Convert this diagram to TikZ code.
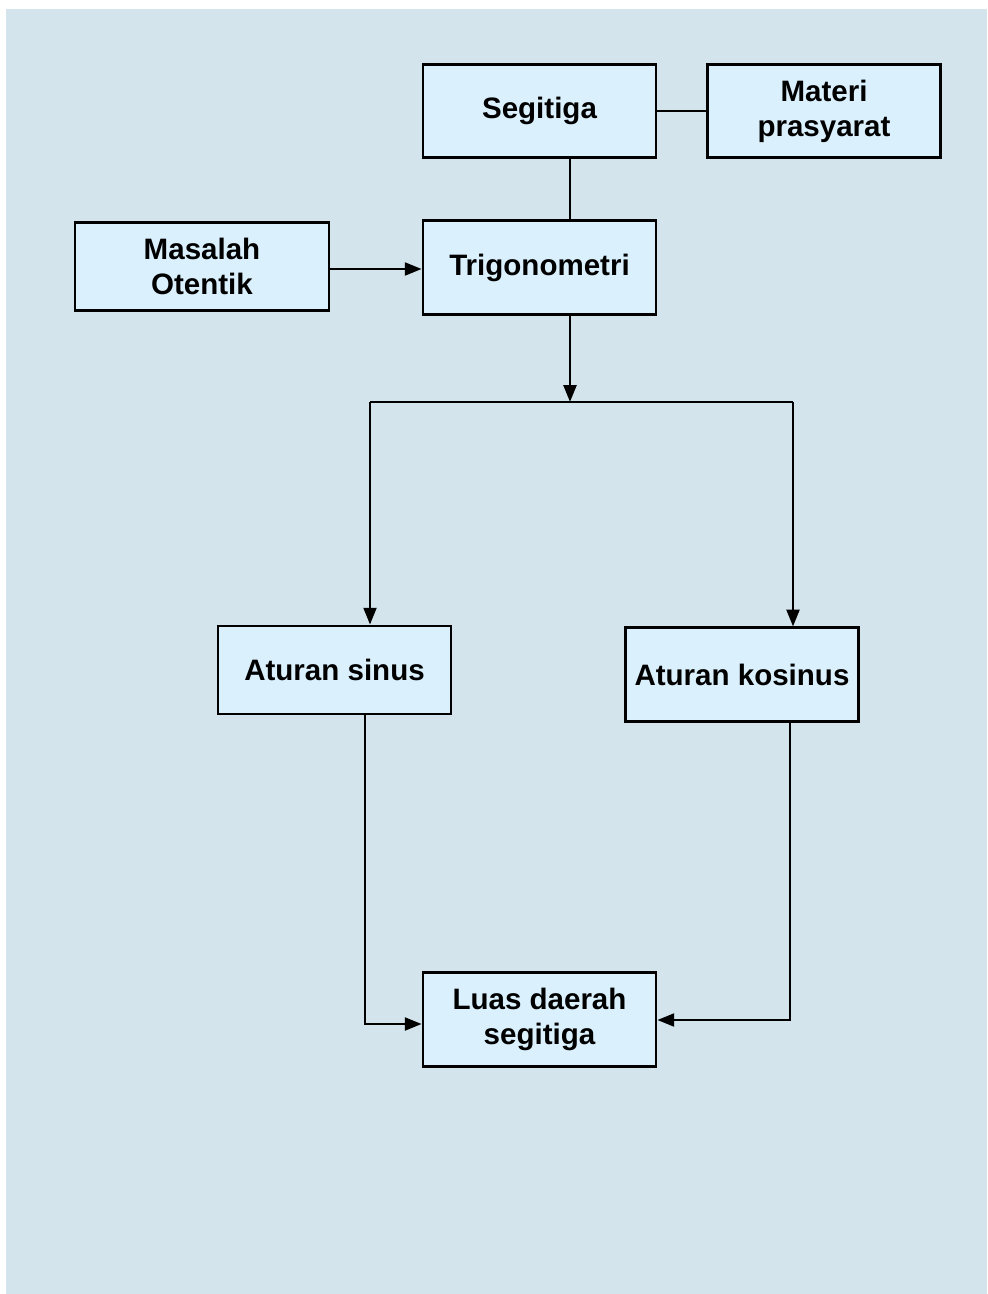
\documentclass[tikz,border=0pt]{standalone}
\usepackage{fontspec}
\setmainfont{Liberation Sans}
\usepackage{xcolor}
\usetikzlibrary{arrows.meta,positioning,calc}
\definecolor{bgblue}{RGB}{211,228,236}
\definecolor{boxblue}{RGB}{218,240,252}
\begin{document}
\begin{tikzpicture}[
  x=0.025cm,y=-0.025cm,
  block/.style={draw,fill=boxblue,line width=2pt,font=\fontsize{21}{25}\selectfont\bfseries,minimum width=5.82cm,minimum height=2.33cm,align=center,inner sep=3pt},
  >={Triangle[length=0.42cm,width=0.32cm]},line width=1.9pt
]
\useasboundingbox (0,0) rectangle (987,1294);
\fill[bgblue] (6,9) rectangle (987,1294);
\node[block] (seg)  at (539.5,111)  {Segitiga};
\node[block] (mat)  at (824,111)    {Materi\\prasyarat};
\node[block,minimum width=6.35cm,minimum height=2.18cm] (mas) at (202,266.5) {Masalah\\Otentik};
\node[block] (trig) at (539.5,267.5) {Trigonometri};
\node[block,minimum height=2.2cm] (sin) at (334.5,670) {Aturan sinus};
\node[block] (kos)  at (742,674.5)  {Aturan kosinus};
\node[block] (luas) at (539.5,1019.5) {Luas daerah\\segitiga};
\coordinate (J)  at (570,402);
\coordinate (JL) at (370,402);
\coordinate (JR) at (793,402);
\coordinate (SL) at (365,1024);
\coordinate (KR) at (790,1020);
\draw (seg) -- (mat);
\draw (seg.south -| J) -- (trig.north -| J);
\draw[->] (mas.east |- 0,269) -- (trig.west |- 0,269);
\draw[->] (trig.south -| J) -- (J);
\draw (JL) -- (JR);
\draw[->] (JL) -- (JL |- sin.north);
\draw[->] (JR) -- (JR |- kos.north);
\draw[->] (sin.south -| SL) -- (SL) -- (luas.west |- SL);
\draw[->] (kos.south -| KR) -- (KR) -- (luas.east |- KR);
\end{tikzpicture}
\end{document}
